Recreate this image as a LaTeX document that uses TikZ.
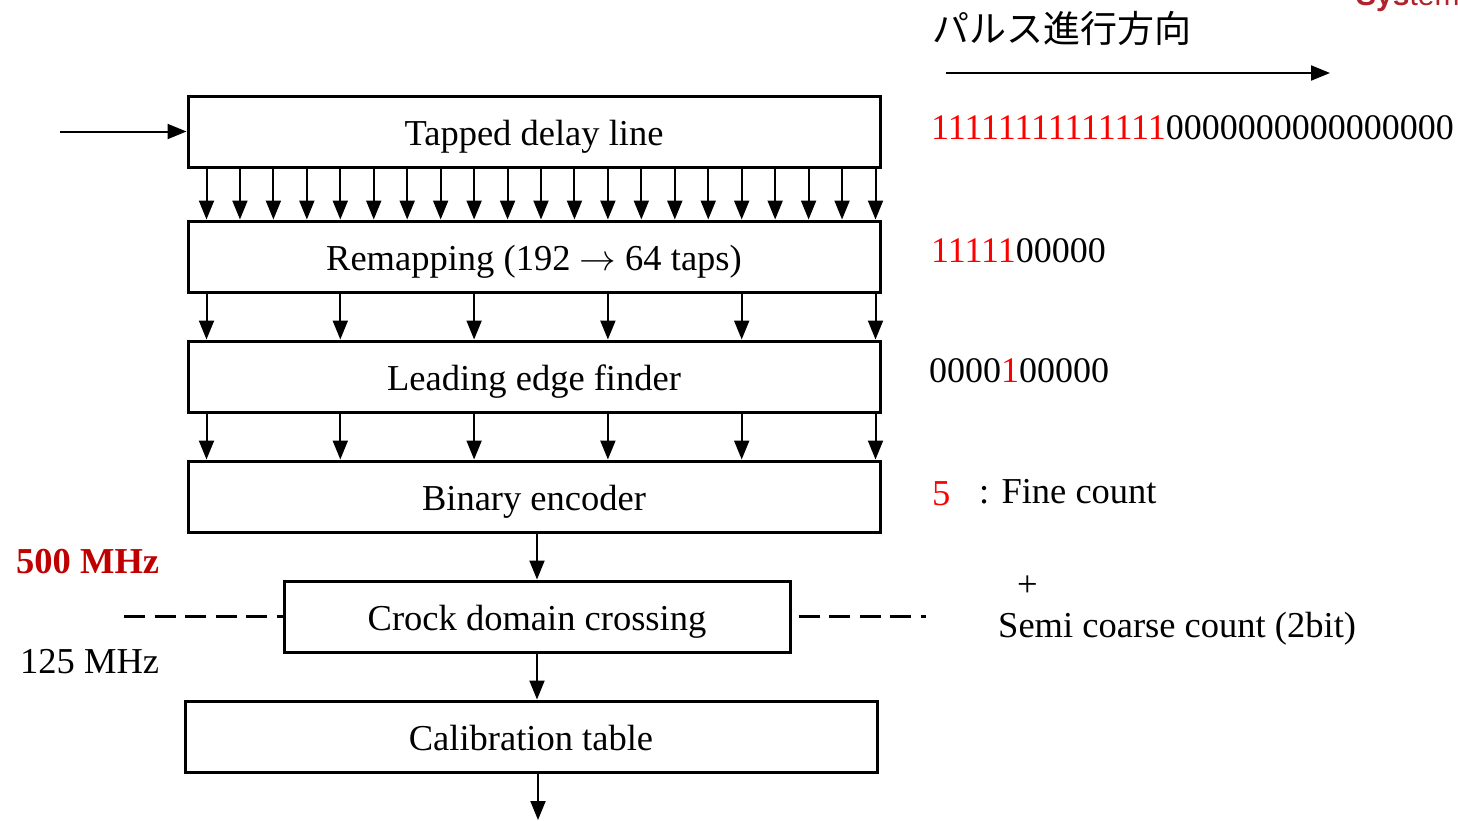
\RequirePackage{fix-cm}
\documentclass[tikz,border=0pt]{standalone}
\usepackage{fontspec}
\setmainfont{Liberation Serif}
\setsansfont{Liberation Sans}
\newfontfamily\jpfont{Noto Sans CJK JP}
\usetikzlibrary{arrows.meta}
\definecolor{bitred}{RGB}{255,0,0}
\definecolor{clkred}{RGB}{192,0,0}
\definecolor{logored}{RGB}{178,34,44}
\newcommand{\redbits}[1]{\textcolor{bitred}{#1}}
\begin{document}
\begin{tikzpicture}[x=1pt, y=-1pt,
    block/.style={draw, line width=3pt, minimum width=692pt, minimum height=71pt,
                  inner sep=0pt, text height=32pt, text depth=5pt,
                  font=\fontsize{36.5}{44}\selectfont},
    tap/.style={-{Triangle[width=15pt,length=19pt]}, line width=2pt},
    clkline/.style={line width=3pt, dash pattern=on 21pt off 9.5pt},
    txt/.style={anchor=base west, inner sep=0pt, font=\fontsize{36.5}{44}\selectfont},
    bits/.style={anchor=base west, inner sep=0pt, font=\fontsize{36}{42}\selectfont}]
    \useasboundingbox (0,0) rectangle (1458,820);

    % TDC chain
    \node[block] (tdl)   at (534,131.5) {Tapped delay line};
    \node[block] (remap) at (534,256.5) {Remapping (192 $\rightarrow$ 64 taps)};
    \node[block] (lef)   at (534,376.5) {Leading edge finder};
    \node[block] (benc)  at (534,496.5) {Binary encoder};
    \node[block, minimum width=506pt] (cdc) at (537,616.5) {Crock domain crossing};
    \node[block] (cal)   at (531,736.5) {Calibration table};

    \coordinate (in)  at (60,131.5);
    \coordinate (out) at (538,820);
    \draw[tap] (in) -- (tdl.west);
    \foreach \i in {0,...,20}
        \draw[tap] ([xshift=20pt+\i*33.45pt]tdl.south west) -- ([xshift=20pt+\i*33.45pt]remap.north west);
    \foreach \i in {0,4,...,20} {
        \draw[tap] ([xshift=20pt+\i*33.45pt]remap.south west) -- ([xshift=20pt+\i*33.45pt]lef.north west);
        \draw[tap] ([xshift=20pt+\i*33.45pt]lef.south west) -- ([xshift=20pt+\i*33.45pt]benc.north west);
    }
    \draw[tap] (benc.south -| cdc.north) -- (cdc.north);
    \draw[tap] (cdc.south) -- (cdc.south |- cal.north);
    \draw[tap] (cal.south -| out) -- (out);

    % clock domains
    \coordinate (dl) at (124,616.5);
    \coordinate (dr) at (926,616.5);
    \draw[clkline] (dl) -- (cdc.west);
    \draw[clkline, shorten <=7pt] (cdc.east) -- (dr);
    \node[txt, text=clkred, font=\bfseries\fontsize{36.5}{44}\selectfont] (f500) at (16,573) {500 MHz};
    \node[txt] (f125) at (20,673) {125 MHz};

    % right side
    \node[anchor=west, inner sep=0pt, font=\jpfont\fontsize{37}{44}\selectfont] (dir) at (932,28) {パルス進行方向};
    \coordinate (dirs) at (946,73);
    \coordinate (dire) at (1330,73);
    \draw[tap] (dirs) -- (dire);
    \node[bits] (bits1) at (931,139) {\redbits{11111111111111}0000000000000000};
    \node[bits] (bits2) at (931,262) {\redbits{11111}00000};
    \node[bits] (bits3) at (929,382) {0000\redbits{1}00000};
    \node[txt, text=bitred] (five) at (932,505) {5};
    \node[txt] (fine) at (979,503) {: Fine count};
    \node[txt] (plus) at (1017,596) {+};
    \node[txt] (semi) at (998,637) {Semi coarse count (2bit)};
    \node[anchor=base west, inner sep=0pt, text=logored,
          font=\sffamily\fontsize{30}{36}\selectfont] (logo) at (1356,5) {\textbf{Sys}tem};
\end{tikzpicture}
\end{document}
